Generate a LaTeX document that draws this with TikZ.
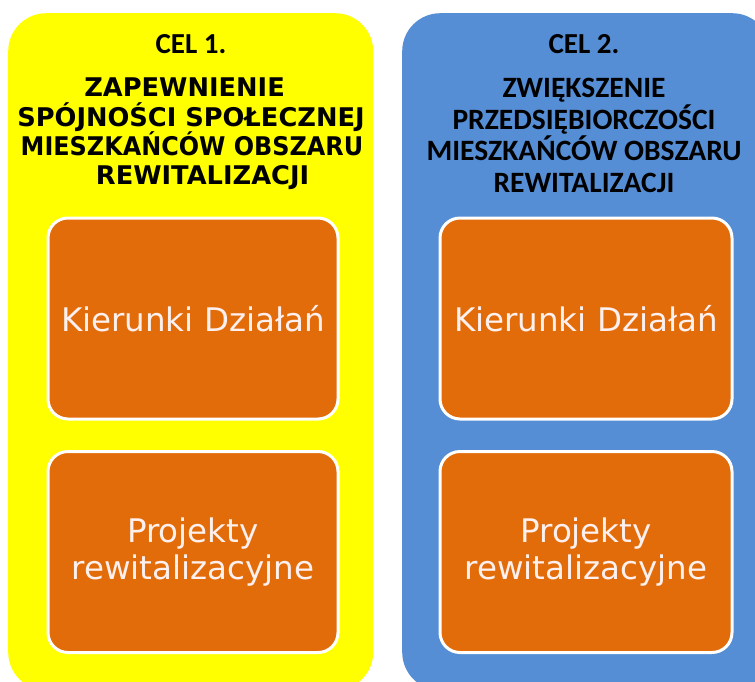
\documentclass[tikz,border=0pt]{standalone}
\usepackage{fontspec}
\usepackage{graphicx}
\setmainfont{DejaVu Sans}
\newfontfamily\calfont{Carlito}
\definecolor{celyellow}{HTML}{FFFF00}
\definecolor{celblue}{HTML}{558ED5}
\definecolor{boxorange}{HTML}{E36C0A}
\definecolor{boxtext}{HTML}{FDF0EE}
\begin{document}
\begin{tikzpicture}[x=1pt,y=-1pt,
  panel/.style={rectangle, rounded corners=38pt, inner sep=0pt, anchor=north west},
  obox/.style={rectangle, rounded corners=20pt, draw=white, line width=3pt, fill=boxorange,
    inner sep=0pt, anchor=north west, text=boxtext, align=center,
    font=\fontsize{32.5}{37.5}\selectfont},
  headA/.style={align=center, font=\bfseries\fontsize{25.7}{29.3}\selectfont},
  headB/.style={align=center, font=\calfont\bfseries\fontsize{29.5}{31.7}\selectfont},
  cel/.style={font=\calfont\bfseries\fontsize{29}{32}\selectfont}]
\useasboundingbox (0,0) rectangle (755,681);
\begin{scope}
\clip (0,0) rectangle (755,681);
\node[panel, fill=celyellow, minimum width=365pt, minimum height=677pt] (p1) at (8,13) {};
\node[panel, fill=celblue, minimum width=368pt, minimum height=677pt] (p2) at (402,13) {};
\end{scope}
\node[cel] (c1) at (191,44) {CEL 1.};
\node[cel] (c2) at (584,44) {CEL 2.};
\node[headA] (h1) at (191,134) {ZAPEWNIENIE\hspace*{0.5em}\\SPÓJNOŚCI SPOŁECZNEJ\\\hspace*{2pt}\scalebox{0.93}[1]{MIESZKAŃCÓW OBSZARU}\\\hspace*{0.9em}REWITALIZACJI};
\node[headB] (h2) at (584,135.5) {ZWIĘKSZENIE\\PRZEDSIĘBIORCZOŚCI\\MIESZKAŃCÓW OBSZARU\\REWITALIZACJI};
\node[obox, minimum width=290pt, minimum height=201pt] (k1) at (46.5,216.5) {Kierunki Działań};
\node[obox, minimum width=290pt, minimum height=201pt] (r1) at (46.5,450) {Projekty\\rewitalizacyjne};
\node[obox, minimum width=292pt, minimum height=201pt] (k2) at (438.5,216.5) {Kierunki Działań};
\node[obox, minimum width=292pt, minimum height=201pt] (r2) at (438.5,450) {Projekty\\rewitalizacyjne};
\end{tikzpicture}
\end{document}
